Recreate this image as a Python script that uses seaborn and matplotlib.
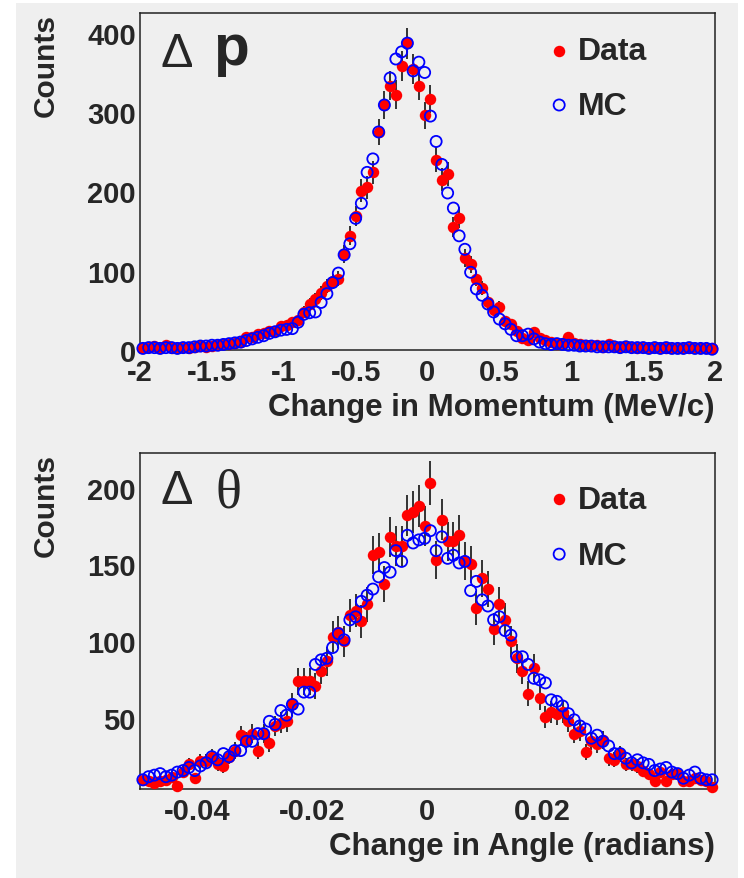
import numpy as np
import pandas as pd
import matplotlib
matplotlib.use("Agg")
import matplotlib.pyplot as plt
import seaborn as sns
from matplotlib.patches import Rectangle
from matplotlib.ticker import MultipleLocator, FuncFormatter

# ---------------- data ----------------
dp_edges_range = (-2.0, 2.0)
dp_nbins = 100
dp_data = [3, 4, 5, 3, 6, 3, 2, 4, 3, 4,
           5, 4, 5, 6, 7, 7, 9, 10, 17, 16,
           20, 21, 24, 24, 30, 31, 35, 38, 48, 58,
           64, 72, 81, 87, 90, 121, 144, 169, 201, 205,
           224, 275, 309, 333, 322, 358, 387, 354, 333, 296,
           317, 240, 215, 222, 155, 167, 116, 108, 90, 78,
           60, 50, 54, 37, 33, 24, 15, 12, 23, 15,
           12, 10, 8, 9, 16, 9, 7, 6, 5, 6,
           4, 7, 5, 4, 5, 4, 3, 4, 3, 4,
           3, 2, 3, 2, 3, 2, 3, 2, 3, 2]
dp_mc = [2, 3, 3, 2, 3, 3, 2, 3, 3, 4,
         5, 5, 6, 6, 7, 8, 9, 10, 12, 14,
         16, 18, 21, 23, 25, 26, 27, 35, 45, 47,
         48, 60, 71, 85, 97, 120, 134, 166, 185, 224,
         241, 275, 309, 343, 367, 376, 387, 352, 363, 350,
         295, 263, 234, 198, 179, 144, 127, 98, 77, 69,
         58, 48, 39, 33, 26, 18, 18, 20, 14, 10,
         8, 7, 8, 7, 6, 6, 5, 5, 5, 4,
         4, 4, 4, 3, 4, 3, 3, 3, 2, 3,
         2, 3, 2, 2, 2, 3, 2, 2, 2, 1]

dt_edges_range = (-0.05, 0.05)
dt_nbins = 100
dt_data = [10, 9, 8, 9, 10, 12, 6, 15, 20, 11,
           22, 22, 25, 20, 19, 25, 29, 39, 35, 40,
           29, 40, 34, 45, 47, 48, 59, 74, 74, 74,
           71, 81, 87, 103, 106, 100, 117, 120, 113, 124,
           156, 158, 137, 168, 162, 162, 182, 184, 188, 175,
           203, 153, 179, 165, 165, 169, 152, 150, 122, 141,
           134, 108, 124, 114, 100, 89, 81, 66, 83, 63,
           51, 54, 53, 54, 48, 40, 42, 28, 35, 33,
           36, 24, 23, 27, 20, 20, 19, 16, 14, 9,
           15, 9, 14, 14, 9, 9, 11, 10, 9, 5]
dt_mc = [10, 12, 13, 14, 12, 13, 15, 16, 18, 16,
         19, 21, 25, 23, 27, 25, 29, 29, 35, 35,
         40, 40, 48, 46, 55, 52, 59, 56, 67, 67,
         85, 88, 89, 96, 105, 101, 114, 116, 126, 130,
         134, 142, 148, 145, 159, 152, 169, 164, 166, 167,
         172, 159, 168, 154, 156, 151, 152, 133, 139, 127,
         123, 114, 116, 107, 104, 90, 90, 85, 76, 75,
         73, 62, 61, 58, 53, 49, 45, 43, 37, 39,
         35, 32, 27, 27, 24, 21, 23, 21, 20, 16,
         17, 18, 15, 14, 11, 13, 15, 11, 10, 10]

legend_labels = ["Data", "MC"]
xlabels = ["Change in Momentum (MeV/c)", "Change in Angle (radians)"]
ylabel = "Counts"

# ---------------- style ----------------
BG = "#efefef"
RED = "#ff0000"
BLUE = "#0000ff"
S_RED = 68
S_MC = 64
sns.set_theme(style="white")
plt.rcParams['font.family'] = ['Liberation Sans', 'DejaVu Sans']
plt.rcParams['font.weight'] = 'bold'

W, H = 744, 879
fig = plt.figure(figsize=(W / 100, H / 100), dpi=100)
fig.patch.set_facecolor('white')
fig.add_artist(Rectangle((16 / W, 0), (738 - 16) / W, 1 - 4 / H,
                         transform=fig.transFigure, facecolor=BG,
                         edgecolor='none', zorder=-10))


def fmt(v, p):
    v = round(v, 6)
    if v == 0:
        return "0"
    return f"{v:g}"


def centers(rng, n):
    edges = np.linspace(rng[0], rng[1], n + 1)
    return 0.5 * (edges[:-1] + edges[1:])


def panel(ax, x, data, mc, xlim, ylim, xmaj, xmin, ymaj, ymin, xlabel,
          leg_y, txt_y):
    df = pd.DataFrame({"x": x, "Data": data, "MC": mc})
    ax.set_facecolor(BG)
    ax.errorbar(df["x"], df["Data"], yerr=np.sqrt(df["Data"]), fmt='none',
                ecolor='black', elinewidth=1.1, capsize=0, zorder=2)
    sns.scatterplot(data=df, x="x", y="Data", ax=ax, color=RED, s=S_RED,
                    linewidth=0, legend=False, zorder=3, clip_on=False)
    sns.scatterplot(data=df, x="x", y="MC", ax=ax, s=S_MC, legend=False,
                    zorder=4, clip_on=False)
    coll = ax.collections[-1]
    coll.set_facecolor('none')
    coll.set_edgecolor(BLUE)
    coll.set_linewidth(1.3)

    ax.set_xlim(*xlim)
    ax.set_ylim(*ylim)
    ax.xaxis.set_major_locator(MultipleLocator(xmaj))
    ax.xaxis.set_minor_locator(MultipleLocator(xmin))
    ax.yaxis.set_major_locator(MultipleLocator(ymaj))
    ax.yaxis.set_minor_locator(MultipleLocator(ymin))
    ax.xaxis.set_major_formatter(FuncFormatter(fmt))
    ax.yaxis.set_major_formatter(FuncFormatter(fmt))
    ax.tick_params(axis='both', which='both', direction='in', top=False,
                   right=False, labelsize=21, width=1.1, color='#222222')
    ax.tick_params(axis='y', which='major', length=12.5, pad=3)
    ax.tick_params(axis='y', which='minor', length=6.5)
    ax.tick_params(axis='x', which='major', length=7, pad=5.5)
    ax.tick_params(axis='x', which='minor', length=4)
    for s in ax.spines.values():
        s.set_linewidth(1.1)
        s.set_color('#222222')
        s.set_visible(True)

    ax.set_xlabel(xlabel, fontsize=22.5, fontweight='bold', loc='right')
    ax.xaxis.set_label_coords(1.0, -0.125)
    ax.set_ylabel(ylabel, fontsize=21.5, fontweight='bold', loc='top')
    ax.yaxis.set_label_coords(-0.14, 1.0)

    # legend
    ax.scatter([0.729], [leg_y[0]], s=S_RED, color=RED, linewidth=0,
               transform=ax.transAxes, clip_on=False, zorder=5)
    ax.scatter([0.729], [leg_y[1]], s=S_MC, facecolor='none', edgecolor=BLUE,
               linewidth=1.3, transform=ax.transAxes, clip_on=False, zorder=5)
    for lab, ty in zip(legend_labels, txt_y):
        ax.text(0.762, ty, lab, transform=ax.transAxes, fontsize=23,
                fontweight='bold', ha='left', va='baseline')


ax1 = fig.add_axes([140 / W, 1 - 351 / H, 575 / W, 337 / H])
ax2 = fig.add_axes([140 / W, 1 - 790 / H, 575 / W, 336 / H])

panel(ax1, centers(dp_edges_range, dp_nbins), dp_data, dp_mc, (-2, 2),
      (0, 425), 0.5, 0.1, 100, 20, xlabels[0],
      (0.888, 0.727), (0.8635, 0.700))
panel(ax2, centers(dt_edges_range, dt_nbins), dt_data, dt_mc, (-0.05, 0.05),
      (4, 222.5), 0.02, 0.005, 50, 10, xlabels[1],
      (0.863, 0.699), (0.836, 0.670))

# panel titles
ax1.text(0.036, 0.843, "\u0394", transform=ax1.transAxes, fontsize=35,
         fontweight='normal', family=['Liberation Sans', 'DejaVu Sans'],
         ha='left', va='baseline')
ax1.text(0.128, 0.849, "p", transform=ax1.transAxes, fontsize=42,
         fontweight='bold', ha='left', va='baseline')
ax2.text(0.036, 0.851, "\u0394", transform=ax2.transAxes, fontsize=35,
         fontweight='normal', family=['Liberation Sans', 'DejaVu Sans'],
         ha='left', va='baseline')
ax2.text(0.132, 0.842, "\u03b8", transform=ax2.transAxes, fontsize=39,
         fontweight='normal', family=['Liberation Serif', 'DejaVu Serif'],
         ha='left', va='baseline')

fig.savefig("out.png", dpi=100, facecolor=fig.get_facecolor())
